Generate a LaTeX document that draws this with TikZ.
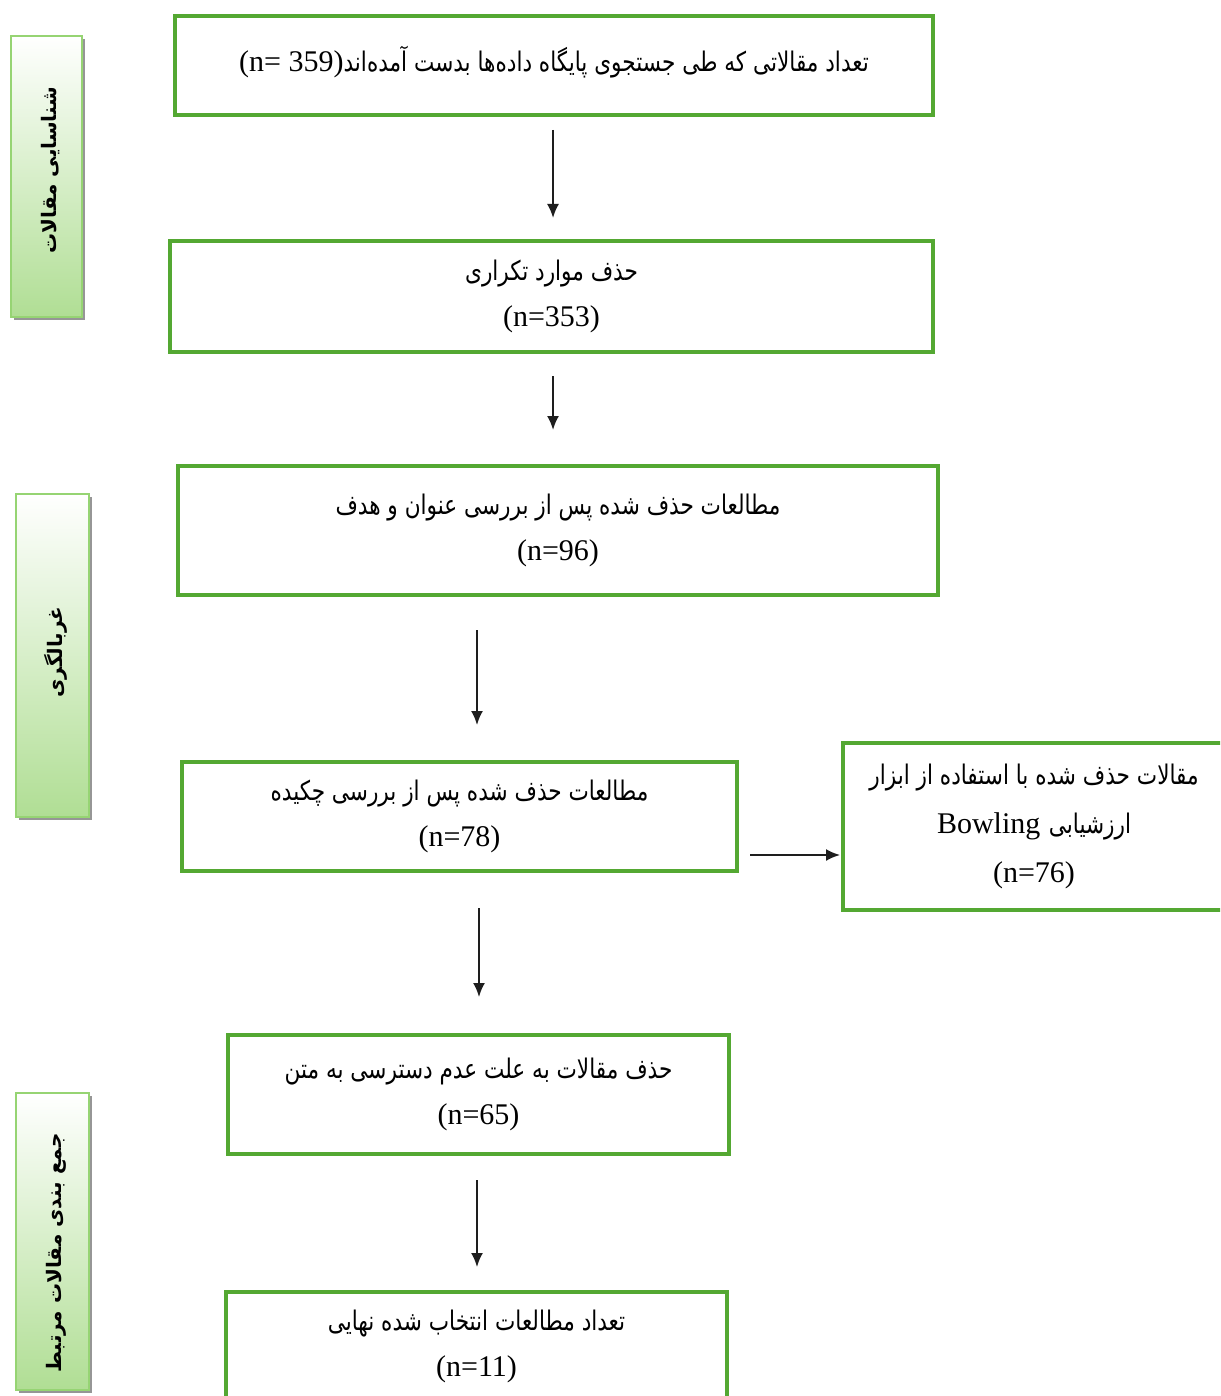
\documentclass[tikz,border=0pt]{standalone}
\usepackage{fontspec}
\usepackage{graphicx}
\usetikzlibrary{arrows.meta,shadows}
\TeXXeTstate=1
\newfontfamily\fa[Script=Arabic]{DejaVu Sans}
\newfontfamily\lat{Liberation Serif}
\definecolor{boxgreen}{RGB}{84,168,50}
\definecolor{sbborder}{RGB}{150,212,115}
\definecolor{sbgreen}{RGB}{176,222,148}
\definecolor{shadowgray}{RGB}{150,150,150}
\definecolor{arrowcol}{RGB}{30,30,30}
\newcommand\fatxt[1]{{\fa\beginR #1\endR}}
\newcommand\fabox[1]{\scalebox{0.8}[1]{\fatxt{#1}}}
\newcommand\ntxt[1]{\mbox{\lat\fontsize{30}{46}\selectfont #1}}
\begin{document}
\begin{tikzpicture}[x=1pt,y=-1pt,
  box/.style={draw=boxgreen, line width=4pt, inner sep=0pt, outer sep=0pt, align=center,
    font=\fa\fontsize{27}{46}\selectfont},
  sbar/.style={draw=sbborder, line width=2pt, inner sep=0pt, outer sep=0pt,
    top color=white, bottom color=sbgreen,
    drop shadow={shadow xshift=3pt, shadow yshift=-3pt, fill=shadowgray, opacity=1}},
  sbtext/.style={rotate=90, inner sep=0pt, font=\fa\bfseries\fontsize{20}{24}\selectfont},
  arr/.style={draw=arrowcol, line width=2pt, -{Latex[length=14pt,width=12pt]}}]
\useasboundingbox (0,0) rectangle (1220,1396);
\clip (0,0) rectangle (1220,1396);
\fill[white] (0,0) rectangle (1220,1396);

% side bars
\node[sbar, minimum width=71pt, minimum height=281pt] (s1) at (46,176.5) {};
\node[sbar, minimum width=73pt, minimum height=323pt] (s2) at (52.5,655.5) {};
\node[sbar, minimum width=73pt, minimum height=297pt] (s3) at (52.5,1241.5) {};
\node[sbtext] (t1) at (51,170) {\fatxt{شناسایی مقالات}};
\node[sbtext] (t2) at (56,652) {\fatxt{غربالگری}};
\node[sbtext] (t3) at (56,1253) {\fatxt{جمع بندی مقالات مرتبط}};

% main boxes
\node[box, minimum width=758pt, minimum height=99pt] (b1) at (554,65.5)
  {\raisebox{14pt}{\ntxt{(n= 359)}\fabox{تعداد مقالاتی که طی جستجوی پایگاه داده^^^^200cها بدست آمده^^^^200cاند}}};
\node[box, minimum width=763pt, minimum height=111pt] (b2) at (551.5,296.5)
  {\fabox{حذف موارد تکراری}\\ \ntxt{(n=353)}};
\node[box, minimum width=760pt, minimum height=129pt] (b3) at (558,530.5)
  {\fabox{مطالعات حذف شده پس از بررسی عنوان و هدف}\\ \ntxt{(n=96)}};
\node[box, minimum width=555pt, minimum height=109pt] (b4) at (459.5,816.5)
  {\fabox{مطالعات حذف شده پس از بررسی چکیده}\\ \ntxt{(n=78)}};
\node[box, minimum width=382pt, minimum height=167pt] (b5) at (1034,826.5)
  {\fabox{مقالات حذف شده با استفاده از ابزار}\\[3pt] \ntxt{Bowling} \fabox{ارزشیابی}\\[3pt] \ntxt{(n=76)}};
\node[box, minimum width=501pt, minimum height=119pt] (b6) at (478.5,1094.5)
  {\fabox{حذف مقالات به علت عدم دسترسی به متن}\\ \ntxt{(n=65)}};
\node[box, minimum width=501pt, minimum height=108pt] (b7) at (476.5,1346)
  {\fabox{تعداد مطالعات انتخاب شده نهایی}\\ \ntxt{(n=11)}};

% connectors
\draw[arr, shorten <=15pt, shorten >=23pt] (b1.south -| 553,0) -- (b2.north -| 553,0);
\draw[arr, shorten <=24pt, shorten >=36pt] (b2.south -| 553,0) -- (b3.north -| 553,0);
\draw[arr, shorten <=35pt, shorten >=37pt] (b3.south -| 477,0) -- (b4.north -| 477,0);
\draw[arr, shorten <=37pt, shorten >=38pt] (b4.south -| 479,0) -- (b6.north -| 479,0);
\draw[arr, shorten <=26pt, shorten >=25pt] (b6.south -| 477,0) -- (b7.north -| 477,0);
\draw[arr, shorten <=13pt, shorten >=3pt] (b4.east |- 0,855) -- (b5.west |- 0,855);
\end{tikzpicture}
\end{document}
